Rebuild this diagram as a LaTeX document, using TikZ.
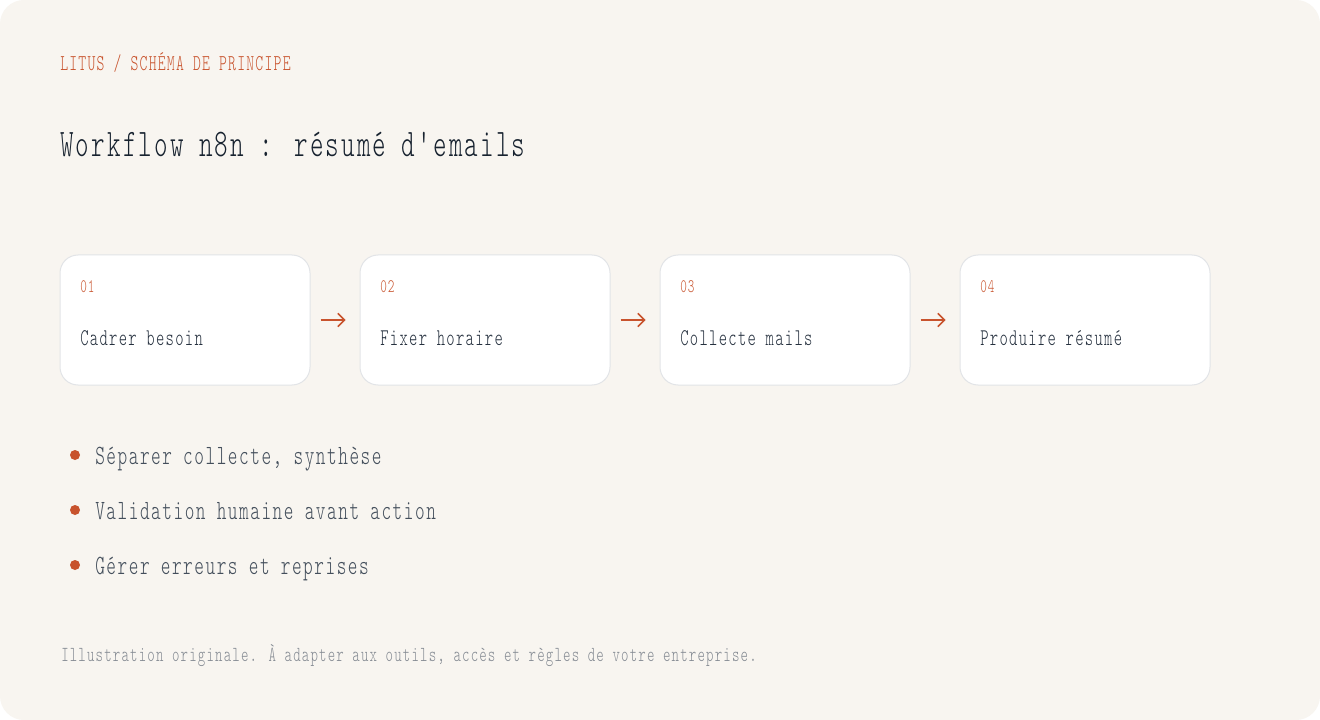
\documentclass[tikz,border=0pt]{standalone}
\usepackage{fontspec}
\usepackage{xcolor}
\usepackage{tikz}
\usetikzlibrary{arrows.meta,positioning,calc}
\newfontfamily\monof{lmmonolt10-regular}[Extension=.otf,FakeStretch=0.66,LetterSpace=5.5]
\definecolor{paper}{HTML}{F8F5F0}
\definecolor{cardline}{HTML}{E2E4E7}
\definecolor{accent}{HTML}{C8532D}
\definecolor{ink}{HTML}{17222F}
\definecolor{cardink}{HTML}{26313F}
\definecolor{bulletink}{HTML}{434E5B}
\definecolor{footink}{HTML}{858B93}
\newcommand{\fsz}[1]{\monof\fontsize{#1}{#1}\selectfont}

\begin{document}
\begin{tikzpicture}[x=0.75pt,y=-0.75pt,
    card/.style={draw=cardline, fill=white, line width=0.75pt, rounded corners=13.5pt,
        minimum width=187.5pt, minimum height=97.5pt, inner sep=0pt},
    txt/.style={anchor=base west, inner sep=0pt},
    flow/.style={-{Straight Barb[length=5pt,width=10pt]}, accent, line width=1.1pt,
        shorten <=7.5pt, shorten >=10.5pt}]
    \useasboundingbox (0,0) rectangle (1320,720);
    \fill[white] (0,0) rectangle (1320,720);
    \fill[paper, rounded corners=18pt] (0,0) rectangle (1320,720);
    % header
    \node[txt, font=\fsz{17}, text=accent] (eyebrow) at (60,71) {LITUS / SCHÉMA DE PRINCIPE};
    \node[txt, font=\fsz{29.3}, text=ink] (title) at (60,157) {Workflow n8n : résumé d'emails};
    % steps
    \foreach \i/\x/\num/\lab in {1/60/01/Cadrer besoin, 2/360/02/Fixer horaire,
        3/660/03/Collecte mails, 4/960/04/Produire résumé} {
        \node[card] (c\i) at (\x+125,320) {};
        \node[txt, font=\fsz{14.3}, text=accent] (n\i) at (\x+20,292) {\num};
        \node[txt, font=\fsz{18}, text=cardink] (l\i) at (\x+20,345) {\lab};
    }
    \foreach \i/\j in {1/2, 2/3, 3/4}
        \draw[flow] (c\i) -- (c\j);
    % notes
    \foreach \i/\y/\note in {1/455/{Séparer collecte, synthèse},
        2/510/{Validation humaine avant action}, 3/565/{Gérer erreurs et reprises}} {
        \node[circle, fill=accent, inner sep=0pt, minimum size=7.5pt] (d\i) at (75,\y) {};
        \node[txt, font=\fsz{20.9}, text=bulletink] (b\i) at (95,\y+9) {\note};
    }
    \node[txt, font=\fsz{16.1}, text=footink] (foot) at (61,661)
        {Illustration originale. À adapter aux outils, accès et règles de votre entreprise.};
\end{tikzpicture}
\end{document}
